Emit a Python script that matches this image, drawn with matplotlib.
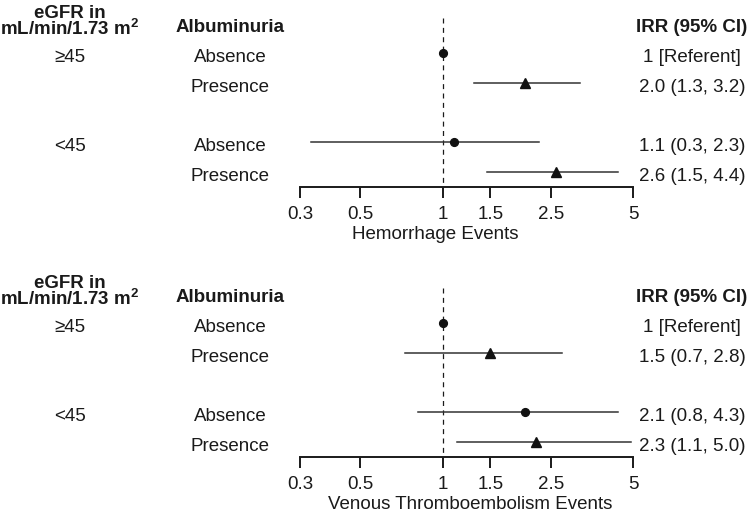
import matplotlib
matplotlib.use("Agg")
import matplotlib.pyplot as plt
from matplotlib.transforms import blended_transform_factory

plt.rcParams['font.family'] = ['Liberation Sans', 'DejaVu Sans']
plt.rcParams['mathtext.fontset'] = 'custom'
plt.rcParams['mathtext.rm'] = 'Liberation Sans'

# data
egfr_labels = ["\u226545", "", "<45", ""]
albuminuria = ["Absence", "Presence", "Absence", "Presence"]
markers = ["o", "^", "o", "^"]
row_pos = [0, 1, 3, 4]

hem_irr = [1.0, 2.0, 1.1, 2.6]
hem_lo = [None, 1.3, 0.33, 1.46]
hem_hi = [None, 3.2, 2.26, 4.4]
hem_text = ["1 [Referent]", "2.0 (1.3, 3.2)", "1.1 (0.3, 2.3)", "2.6 (1.5, 4.4)"]

vte_irr = [1.0, 1.5, 2.0, 2.2]
vte_lo = [None, 0.73, 0.81, 1.13]
vte_hi = [None, 2.75, 4.4, 4.9]
vte_text = ["1 [Referent]", "1.5 (0.7, 2.8)", "2.1 (0.8, 4.3)", "2.3 (1.1, 5.0)"]

ticks = [0.3, 0.5, 1, 1.5, 2.5, 5]
tick_labels = ["0.3", "0.5", "1", "1.5", "2.5", "5"]

W, H = 751, 512
TXT = "#1a1a1a"
FS = 13.5
ROW_PX = 29.7

fig = plt.figure(figsize=(W / 100, H / 100), dpi=100)


def panel(bottom_px, irr, lo, hi, texts, xlabel, xlabel_x):
    # axes spans from the top of the panel to the axis line (bottom_px)
    ax = fig.add_axes([300 / W, 1 - bottom_px / H, 333 / W, 187 / H])
    ax.set_xscale("log")
    ax.set_xlim(0.3, 5)
    ax.set_ylim(4.51, -1.785)
    for s in ["top", "right", "left"]:
        ax.spines[s].set_visible(False)
    ax.spines["bottom"].set_linewidth(1.4)
    ax.spines["bottom"].set_color(TXT)
    ax.set_yticks([])
    ax.set_xticks(ticks)
    ax.set_xticklabels(tick_labels)
    ax.minorticks_off()
    ax.tick_params(axis="x", direction="out", length=8, width=1.4, color=TXT,
                   labelsize=FS, labelcolor=TXT, pad=6)
    ax.patch.set_alpha(0)

    ax.plot([1, 1], [-1.18, 4.51], ls=(0, (4, 3.5)), color=TXT, lw=0.9, zorder=1)

    for i in range(len(irr)):
        y = row_pos[i]
        if lo[i] is not None:
            ax.plot([lo[i], hi[i]], [y, y], color="#333333", lw=1.1, zorder=2)
        ms = 5.6 if markers[i] == "o" else 7.5
        ax.plot(irr[i], y, marker=markers[i], color="#111111", ms=ms, zorder=3,
                clip_on=False)

    tr = blended_transform_factory(fig.transFigure, ax.transData)
    off = 9 / ROW_PX  # baseline sits below the row centre
    for i in range(len(irr)):
        y = row_pos[i] + off
        ax.text(70 / W, y, egfr_labels[i], transform=tr, ha="center", va="baseline",
                fontsize=FS, color=TXT)
        ax.text(230 / W, y, albuminuria[i], transform=tr, ha="center", va="baseline",
                fontsize=FS, color=TXT)
        ax.text(692 / W, y, texts[i], transform=tr, ha="center", va="baseline",
                fontsize=FS, color=TXT)

    # headers
    hy = -21.5 / ROW_PX
    ax.text(70 / W, -14 / ROW_PX, "eGFR in\n" + r"mL/min/1.73 m$^{\mathregular{2}}$",
            transform=tr, ha="center", va="bottom", multialignment="center",
            linespacing=0.78, fontsize=FS, fontweight="bold", color=TXT)
    ax.text(230 / W, hy, "Albuminuria", transform=tr, ha="center", va="baseline",
            fontsize=FS, fontweight="bold", color=TXT)
    ax.text(692 / W, hy, "IRR (95% CI)", transform=tr, ha="center", va="baseline",
            fontsize=FS, fontweight="bold", color=TXT)

    ax.text(xlabel_x / W, (234 - 53) / ROW_PX, xlabel, transform=tr, ha="center",
            va="center", fontsize=FS, color=TXT, clip_on=False)
    return ax


panel(187, hem_irr, hem_lo, hem_hi, hem_text, "Hemorrhage Events", 435)
panel(457, vte_irr, vte_lo, vte_hi, vte_text, "Venous Thromboembolism Events", 470)

fig.savefig("out.png", dpi=100)
